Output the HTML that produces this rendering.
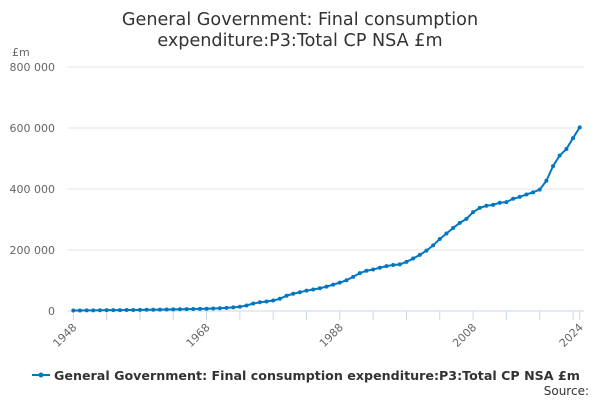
<!DOCTYPE html>
<html><head><meta charset="utf-8"><style>
body{margin:0;background:#fff;font-family:"DejaVu Sans","Liberation Sans",sans-serif;}
svg text{font-family:"DejaVu Sans","Liberation Sans",sans-serif;}
</style></head><body>
<svg id="chart" width="600" height="400" xmlns="http://www.w3.org/2000/svg">
<text x="300" y="25" text-anchor="middle" font-size="17.6" fill="#333">General Government: Final consumption</text>
<text x="300" y="46" text-anchor="middle" font-size="17.6" fill="#333">expenditure:P3:Total CP NSA £m</text>
<text x="12" y="56" font-size="11" fill="#666">£m</text>
<g id="grid"></g><g id="xaxis"></g><g id="series"></g>
<g>
<line x1="32" y1="375" x2="50" y2="375" stroke="#0077c0" stroke-width="2"/>
<circle cx="41" cy="375" r="2.5" fill="#0077c0"/>
<text x="54" y="380" font-size="12.7" font-weight="bold" fill="#333" textLength="526" lengthAdjust="spacingAndGlyphs">General Government: Final consumption expenditure:P3:Total CP NSA £m</text>
</g>
<text x="589" y="395" text-anchor="end" font-size="12" fill="#333">Source:</text>
</svg>
<script>
const years=[];for(let y=1948;y<=2024;y++)years.push(y);
const values=[1600,1800,2000,2200,2500,2700,2800,3000,3200,3400,3600,3900,4300,4600,4900,5300,5700,6100,6600,7100,7500,8000,9200,10300,11900,13900,18000,24600,28500,31000,34500,40000,50000,56500,61500,66600,70600,74500,80000,86500,93000,101000,112000,124000,132000,136000,142000,147000,151000,153000,161000,172000,184000,198000,215000,236000,254000,272000,289000,302000,324000,338000,345000,348000,355000,357000,368000,374000,382000,389000,398000,427000,475000,510000,531000,567000,602000];
const yTicks=[0,200000,400000,600000,800000];
const xLabels=[1948,1968,1988,2008,2024];
const NS="http://www.w3.org/2000/svg";
const x0=73.3,x1=579.7,yb=311,yt=67;
const X=y=>x0+(y-1948)*(x1-x0)/76;
const Y=v=>yb-v*(yb-yt)/800000;
function mk(t,a,p){const e=document.createElementNS(NS,t);for(const k in a)e.setAttribute(k,a[k]);p.appendChild(e);return e;}
const grid=document.getElementById('grid');
yTicks.forEach(v=>{
 const l=mk('line',{x1:68,x2:584,y1:Y(v),y2:Y(v),stroke:v===0?'#ccd6eb':'#e6e6e6','stroke-width':1},grid);
 
 
 const t=mk('text',{x:55,y:Y(v)+4,'text-anchor':'end','font-size':11,fill:'#666'},grid);
 t.textContent=v===0?'0':(v/1000)+' 000';
 
 
});
const xa=document.getElementById('xaxis');
for(let y=1948;y<=2024;y+=5){
 const l=mk('line',{x1:X(y),x2:X(y),y1:yb,y2:yb+9,stroke:'#ccd6eb'},xa);
 
 
}
mk('line',{x1:X(2024),x2:X(2024),y1:yb,y2:yb+9,stroke:'#ccd6eb'},xa);
xLabels.forEach(y=>{
 const t=mk('text',{x:X(y)+4,y:yb+17,'text-anchor':'end','font-size':11,fill:'#666',transform:`rotate(-45 ${X(y)+4} ${yb+17})`},xa);
 t.textContent=y;
 
 
});
const s=document.getElementById('series');
const p=mk('polyline',{points:years.map((y,i)=>X(y)+','+Y(values[i])).join(' '),fill:'none',stroke:'#0077c0','stroke-width':2},s);


years.forEach((y,i)=>{
 const c=mk('circle',{cx:X(y),cy:Y(values[i]),r:2,fill:'#0077c0'},s);
 
 
});
</script>
</body></html>
